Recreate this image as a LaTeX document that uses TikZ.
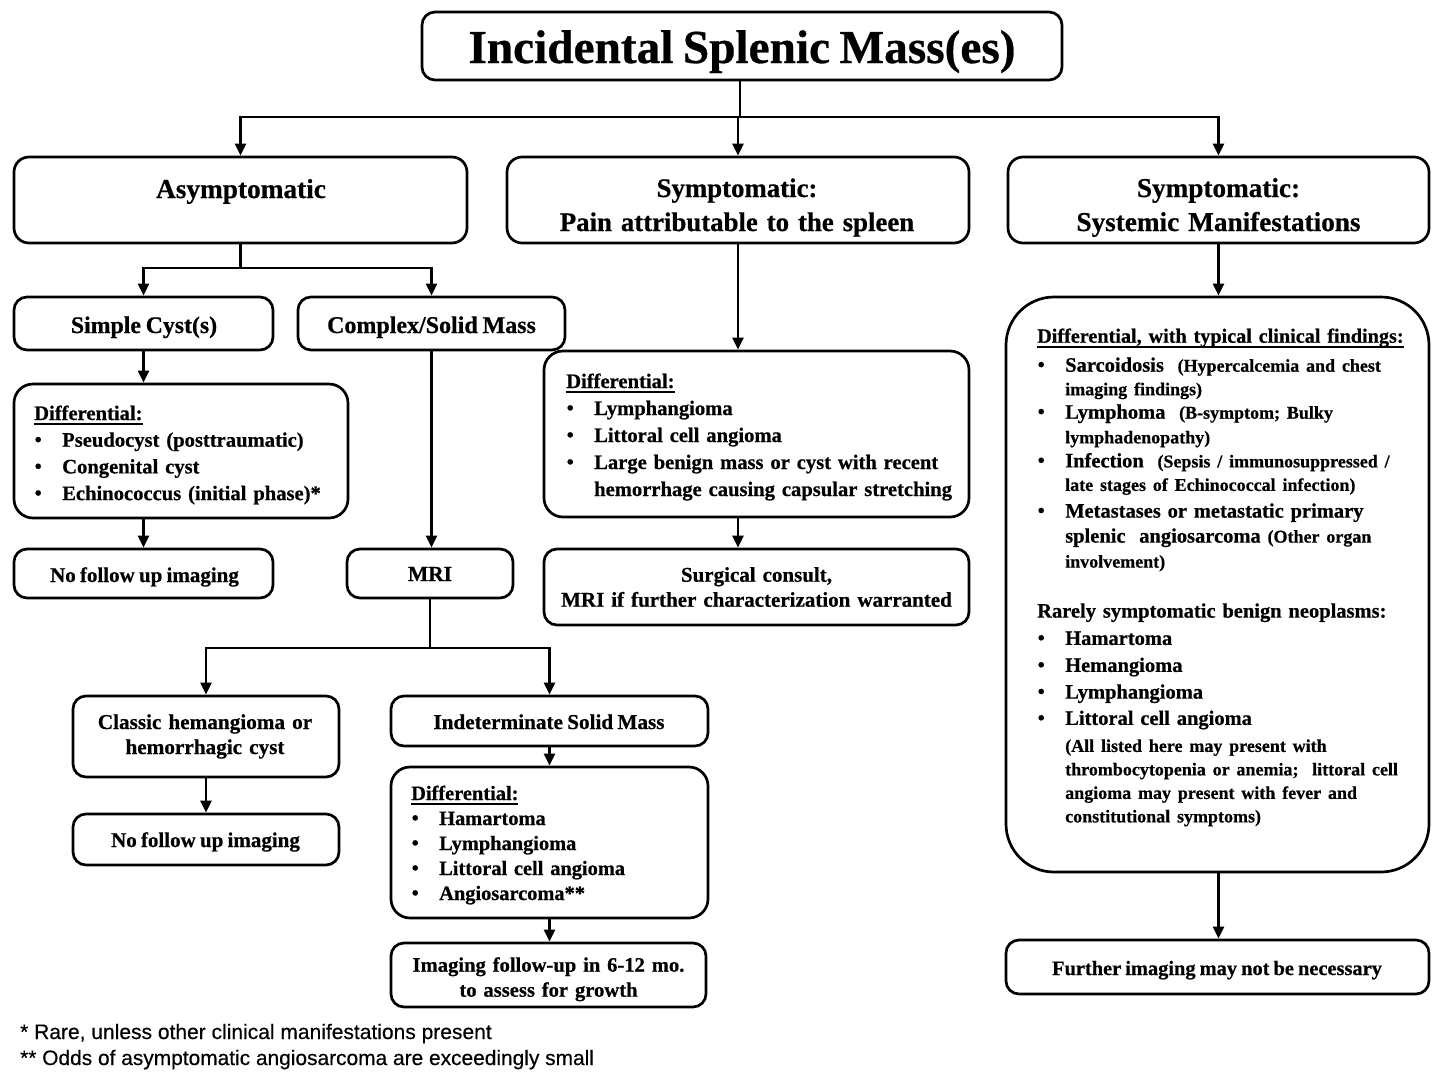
\documentclass[tikz,border=0pt]{standalone}
\usepackage{fontspec}
\setmainfont{Liberation Serif}[BoldFeatures={FakeBold=0.6}, WordSpace=0.8]
\newfontfamily\sansf{Liberation Sans}[FakeBold=0.4]
\usetikzlibrary{arrows.meta}
\newcommand{\fs}[2]{\fontsize{#1pt}{#2pt}\selectfont}
\newcommand{\ulin}[1]{\leavevmode\setbox0\hbox{#1}\rlap{\rule[-5.4pt]{\wd0}{2.2pt}}\box0}
\newcommand{\bul}{\makebox[28pt][l]{\hspace*{0.5pt}\raisebox{0.5pt}{\fontsize{20pt}{20pt}\selectfont •}}}
\newcommand{\ind}{\hspace*{28pt}}
\newcommand{\sm}[1]{{\fontsize{18pt}{23.5pt}\selectfont #1}}
\begin{document}
\begin{tikzpicture}[x=1pt,y=-1pt,
  box/.style={draw, line width=2.7pt, rounded corners=13pt, inner sep=0pt},
  dbox/.style={box, rounded corners=19pt},
  txt/.style={inner sep=0pt, font=\bfseries\fs{21}{26}},
  conn/.style={line width=2.6pt},
  arr/.style={conn, -{Triangle[length=12pt,width=11pt]}},
]
\useasboundingbox (0,0) rectangle (1443,1090);

% ---------- boxes ----------
\node[box, minimum width=640pt, minimum height=68pt] (title) at (742,46) {};
\node[box, rounded corners=15pt, minimum width=453pt, minimum height=86pt] (asym) at (240.5,200) {};
\node[box, rounded corners=15pt, minimum width=462pt, minimum height=86pt] (pain) at (738,200) {};
\node[box, rounded corners=15pt, minimum width=421pt, minimum height=86pt] (sys) at (1218.5,200) {};
\node[box, minimum width=259pt, minimum height=53pt] (simple) at (143.5,323.5) {};
\node[box, minimum width=267pt, minimum height=53pt] (complex) at (431.5,323.5) {};
\node[dbox, minimum width=334pt, minimum height=134pt] (ldiff) at (181,451) {};
\node[box, minimum width=259pt, minimum height=49pt] (nofu1) at (143.5,573.5) {};
\node[box, minimum width=166pt, minimum height=49pt] (mri) at (430,573.5) {};
\node[box, minimum width=266pt, minimum height=81pt] (classic) at (206,736.5) {};
\node[box, minimum width=266pt, minimum height=51pt] (nofu2) at (206,839.5) {};
\node[box, minimum width=317pt, minimum height=50pt] (indet) at (549.5,721) {};
\node[dbox, minimum width=317pt, minimum height=151pt] (idiff) at (549.5,842.5) {};
\node[box, minimum width=315pt, minimum height=64pt] (imgfu) at (548.5,975) {};
\node[dbox, minimum width=425pt, minimum height=166pt] (mdiff) at (756.5,434) {};
\node[box, minimum width=425pt, minimum height=76pt] (surg) at (756.5,587) {};
\node[box, rounded corners=48pt, minimum width=423pt, minimum height=575pt] (big) at (1217.5,584.5) {};
\node[box, minimum width=423pt, minimum height=54pt] (further) at (1217.5,967) {};

% ---------- texts ----------
\node[txt, font=\bfseries\fs{47.3}{56}, anchor=base] (titleT) at (742,63) {Incidental Splenic Mass(es)};
\node[txt, font=\bfseries\fs{27.3}{34}, anchor=base] (asymT) at (241,198) {Asymptomatic};
\node[txt, font=\bfseries\fs{26.8}{34}, align=center, text width=450pt, anchor=base] (painT) at (737,197) {Symptomatic:\\Pain attributable to the spleen};
\node[txt, font=\bfseries\fs{27.2}{34}, align=center, text width=400pt, anchor=base] (sysT) at (1218.5,197) {Symptomatic:\\Systemic Manifestations};
\node[txt, font=\bfseries\fs{23.8}{28}, anchor=base] (simpleT) at (144,333) {Simple Cyst(s)};
\node[txt, font=\bfseries\fs{24}{28}, anchor=base] (complexT) at (431.5,333) {Complex/Solid Mass};
\node[txt, font=\bfseries\fs{20.6}{26.7}, align=left, text width=300pt, anchor=base west] (ldiffT) at (34,420)
  {\ulin{Differential:}\\
   \bul Pseudocyst (posttraumatic)\\
   \bul Congenital cyst\\
   \bul Echinococcus (initial phase)*};
\node[txt, font=\bfseries\fs{21}{26}, anchor=base] (nofu1T) at (144.5,582) {No follow up imaging};
\node[txt, font=\bfseries\fs{21.4}{26}, anchor=base] (mriT) at (430,581) {MRI};
\node[txt, font=\bfseries\fs{21.2}{25}, align=center, text width=260pt, anchor=base] (classicT) at (205,729) {Classic hemangioma or\\hemorrhagic cyst};
\node[txt, font=\bfseries\fs{21}{26}, anchor=base] (nofu2T) at (205.5,847) {No follow up imaging};
\node[txt, font=\bfseries\fs{21.2}{26}, anchor=base] (indetT) at (549,729) {Indeterminate Solid Mass};
\node[txt, font=\bfseries\fs{20.4}{25}, align=left, text width=290pt, anchor=base west] (idiffT) at (411,800)
  {\ulin{Differential:}\\
   \bul Hamartoma\\
   \bul Lymphangioma\\
   \bul Littoral cell angioma\\
   \bul Angiosarcoma**};
\node[txt, font=\bfseries\fs{20.6}{25}, align=center, text width=310pt, anchor=base] (imgfuT) at (548.5,971.7) {Imaging follow-up in 6-12 mo.\\to assess for growth};
\node[txt, font=\bfseries\fs{20.6}{27}, align=left, text width=400pt, anchor=base west] (mdiffT) at (566,388)
  {\ulin{Differential:}\\
   \bul Lymphangioma\\
   \bul Littoral cell angioma\\
   \bul Large benign mass or cyst with recent\\
   \ind hemorrhage causing capsular stretching};
\node[txt, font=\bfseries\fs{21}{25}, align=center, text width=420pt, anchor=base] (surgT) at (756.5,581.7) {Surgical consult,\\MRI if further characterization warranted};
\node[txt, font=\bfseries\fs{20.5}{23.5}, align=left, text width=385pt, anchor=base west] (bigT) at (1037,342.7)
  {\ulin{\fontsize{20.2pt}{23.5pt}\selectfont Differential, with typical clinical findings:}\\[5.5pt]
   \bul Sarcoidosis\ \ \sm{(Hypercalcemia and chest}\\
   \ind\sm{imaging findings)}\\
   \bul Lymphoma\ \ \sm{(B-symptom; Bulky}\\[1.2pt]
   \ind\sm{lymphadenopathy)}\\[0.5pt]
   \bul Infection\ \ \sm{(Sepsis / immunosuppressed /}\\
   \ind\sm{late stages of Echinococcal infection)}\\[3.2pt]
   \bul Metastases or metastatic primary\\[1.5pt]
   \ind splenic\ \ angiosarcoma \sm{(Other organ}\\[1.5pt]
   \ind\sm{involvement)}\\[26.5pt]
   Rarely symptomatic benign neoplasms:\\[3.8pt]
   \bul Hamartoma\\[3.5pt]
   \bul Hemangioma\\[3.2pt]
   \bul Lymphangioma\\[2.8pt]
   \bul Littoral cell angioma\\[3.5pt]
   \ind\sm{(All listed here may present with}\\
   \ind\sm{thrombocytopenia or anemia;\ \ littoral cell}\\
   \ind\sm{angioma may present with fever and}\\
   \ind\sm{constitutional symptoms)}};
\node[txt, font=\bfseries\fs{20.4}{26}, anchor=base] (furtherT) at (1217,975) {Further imaging may not be necessary};

\node[txt, font=\sansf\fs{21}{26}, anchor=base west] (fn1) at (20,1039) {*\ Rare, unless other clinical manifestations present};
\node[txt, font=\sansf\fs{20.9}{26}, anchor=base west] (fn2) at (20,1065) {** Odds of asymptomatic angiosarcoma are exceedingly small};

% ---------- connectors ----------
\coordinate (j0) at (740,117);
\draw[conn] (title.south -| j0) -- (j0);
\draw[arr] (j0) -| (asym.north);
\draw[arr] (j0) -| (sys.north);
\draw[arr] (pain.north |- j0) -- (pain.north);

\coordinate (j1) at (240.5,268);
\draw[conn] (asym.south) -- (j1);
\draw[arr] (j1) -| (simple.north);
\draw[arr] (j1) -| (complex.north);
\draw[arr] (simple.south) -- (simple.south |- ldiff.north);
\draw[arr] (nofu1.north |- ldiff.south) -- (nofu1.north);
\draw[arr] (complex.south) -- (complex.south |- mri.north);

\coordinate (j2) at (430,648);
\draw[conn] (mri.south) -- (j2);
\draw[arr] (j2) -| (classic.north);
\draw[arr] (j2) -| (indet.north);
\draw[arr] (classic.south) -- (nofu2.north);
\draw[arr] (indet.south) -- (idiff.north);
\draw[arr] (idiff.south) -- (idiff.south |- imgfu.north);

\draw[arr] (pain.south) -- (pain.south |- mdiff.north);
\draw[arr] (pain.south |- mdiff.south) -- (pain.south |- surg.north);

\draw[arr] (sys.south) -- (sys.south |- big.north);
\draw[arr] (sys.south |- big.south) -- (sys.south |- further.north);
\end{tikzpicture}
\end{document}
